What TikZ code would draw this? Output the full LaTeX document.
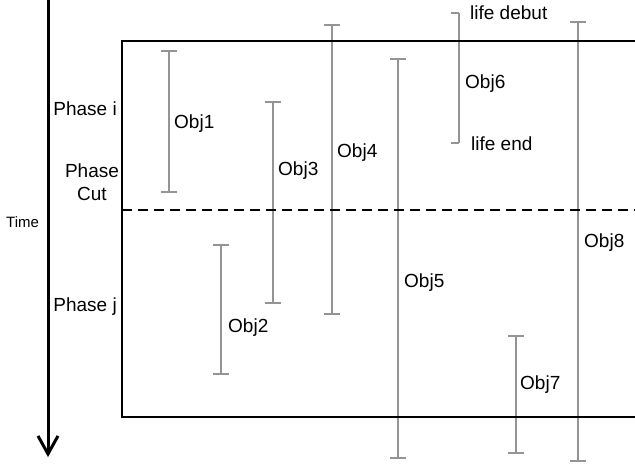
\documentclass[tikz,border=0pt]{standalone}
\usepackage{fontspec}
\setmainfont{Liberation Sans}
\usepackage{xcolor}
\usepackage{tikz}
\usetikzlibrary{arrows.meta, positioning}

\definecolor{lifegray}{RGB}{148,148,148}

\begin{document}
\begin{tikzpicture}[x=1pt, y=-1pt, >=Stealth, font=\fontsize{19}{23}\selectfont,
    lifestem/.style={draw=lifegray, line width=2pt},
    lifeline/.style={lifestem, {Bar[width=16pt]}-{Bar[width=16pt]}},
    objlabel/.style={anchor=base west, inner sep=0pt},
    phaselabel/.style={anchor=base east, inner sep=0pt}]
    \useasboundingbox (0,0) rectangle (635,464);

    % time axis
    \coordinate (tstart) at (48,0);
    \coordinate (tend) at (48,457);
    \draw[line width=3pt, -{Straight Barb[length=18pt, width=20pt]}] (tstart) -- (tend);
    \node[anchor=base west, inner sep=0pt, font=\fontsize{15}{18}\selectfont] (time) at (6,227) {Time};

    % phases
    \node[phaselabel] (phasei) at (117,115) {Phase i};
    \node[align=center, inner sep=0pt, anchor=base] (phasecut) at (92,200) {Phase\\Cut};
    \node[phaselabel] (phasej) at (117,311) {Phase j};

    % object lifetimes
    \coordinate (o1t) at (169,50);  \coordinate (o1b) at (169,193);
    \coordinate (o2t) at (221,244); \coordinate (o2b) at (221,375);
    \coordinate (o3t) at (273,101); \coordinate (o3b) at (273,304);
    \coordinate (o4t) at (332,24);  \coordinate (o4b) at (332,315);
    \coordinate (o5t) at (398,58);  \coordinate (o5b) at (398,459);
    \coordinate (o6t) at (459,13);  \coordinate (o6b) at (459,143);
    \coordinate (o7t) at (516,335); \coordinate (o7b) at (516,454);
    \coordinate (o8t) at (578,21);  \coordinate (o8b) at (578,462);

    \draw[lifeline] (o1t) -- (o1b);
    \draw[lifeline] (o2t) -- (o2b);
    \draw[lifeline] (o3t) -- (o3b);
    \draw[lifeline] (o4t) -- (o4b);
    \draw[lifeline] (o5t) -- (o5b);
    \draw[lifeline] (o7t) -- (o7b);
    \draw[lifeline] (o8t) -- (o8b);

    % obj6 with its debut / end marks
    \draw[lifestem] (o6t) -- (o6b);
    \draw[lifestem] (o6t) -- ++(-8,0);
    \draw[lifestem] (o6b) -- ++(-8,0);
    \node[objlabel] (debut) at (470,19) {life debut};
    \node[objlabel] (lifeend) at (471,150) {life end};

    \node[objlabel] (obj1) at (174,128) {Obj1};
    \node[objlabel] (obj2) at (228,332) {Obj2};
    \node[objlabel] (obj3) at (278,175) {Obj3};
    \node[objlabel] (obj4) at (337,157) {Obj4};
    \node[objlabel] (obj5) at (404,287) {Obj5};
    \node[objlabel] (obj6) at (465,88) {Obj6};
    \node[objlabel] (obj7) at (520,389) {Obj7};
    \node[objlabel] (obj8) at (584,247) {Obj8};

    % frame and phase cut
    \coordinate (boxtr) at (635,40.5);
    \coordinate (boxbl) at (122,417);
    \coordinate (boxbr) at (635,417);
    \draw[line width=2pt] (boxtr) -| (boxbl) -- (boxbr);
    \coordinate (cutl) at (122,210);
    \coordinate (cutr) at (635,210);
    \draw[line width=2pt, dash pattern=on 10pt off 6pt] (cutl) -- (cutr);
\end{tikzpicture}
\end{document}
